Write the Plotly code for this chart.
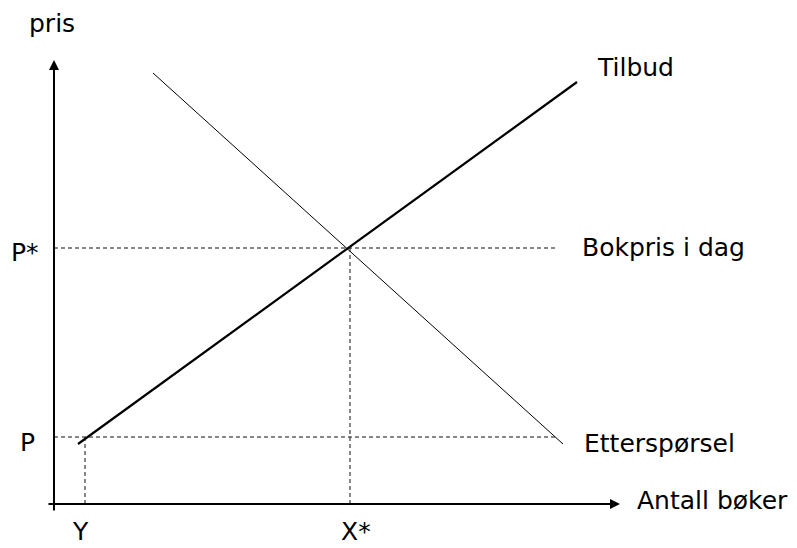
import plotly.graph_objects as go

# quantities / prices (1 unit ~ 10 px)
supply_q = [2.4, 52.3]
supply_p = [6.0, 42.2]
demand_q = [9.9, 50.9]
demand_p = [43.1, 6.0]

p_star = 25.6
p_low = 6.7
x_star = 29.6
y_qty = 3.1
guide_end = [50.1, 50.3]  # right end of the P* and P guides

tick_labels = ["P*", "P", "Y", "X*"]
curve_labels = ["Tilbud", "Bokpris i dag", "Etterspørsel"]
axis_labels = ["pris", "Antall bøker"]

FONT = dict(family="DejaVu Sans, Verdana, sans-serif", size=25, color="black")
GUIDE = dict(color="#111111", width=1, dash="4px,3px")

fig = go.Figure()

fig.add_trace(go.Scatter(x=supply_q, y=supply_p, mode="lines",
                         line=dict(color="black", width=2.2), hoverinfo="skip"))
fig.add_trace(go.Scatter(x=demand_q, y=demand_p, mode="lines",
                         line=dict(color="black", width=1), hoverinfo="skip"))

# dotted guides
fig.add_trace(go.Scatter(x=[0, guide_end[0]], y=[p_star, p_star], mode="lines", line=GUIDE, hoverinfo="skip"))
fig.add_trace(go.Scatter(x=[0, guide_end[1]], y=[p_low, p_low], mode="lines", line=GUIDE, hoverinfo="skip"))
fig.add_trace(go.Scatter(x=[x_star, x_star], y=[0, p_star], mode="lines", line=GUIDE, hoverinfo="skip"))
fig.add_trace(go.Scatter(x=[y_qty, y_qty], y=[0, p_low], mode="lines", line=GUIDE, hoverinfo="skip"))

# axes with arrows
fig.add_annotation(x=0, y=44.4, ax=0, ay=-0.8, xref="x", yref="y", axref="x", ayref="y",
                   text="", showarrow=True, arrowhead=2, arrowsize=1, arrowwidth=2, arrowcolor="black")
fig.add_annotation(x=56.6, y=0, ax=-0.7, ay=0, xref="x", yref="y", axref="x", ayref="y",
                   text="", showarrow=True, arrowhead=2, arrowsize=1, arrowwidth=2, arrowcolor="black")

# tick-like labels
tick_pos = [(-2.9, 25.2), (-2.7, 6.2), (2.6, -2.7), (30.2, -2.7)]
for txt, (x, y) in zip(tick_labels, tick_pos):
    fig.add_annotation(x=x, y=y, text=txt, showarrow=False, font=FONT, xanchor="center", yanchor="middle")

curve_pos = [(54.1, 43.7), (52.6, 25.7), (52.8, 6.1)]
for txt, (x, y) in zip(curve_labels, curve_pos):
    fig.add_annotation(x=x, y=y, text=txt, showarrow=False, font=FONT, xanchor="left", yanchor="middle")

fig.add_annotation(x=-0.2, y=48.1, text=axis_labels[0], showarrow=False, font=FONT,
                   xanchor="center", yanchor="middle")
fig.add_annotation(x=58.1, y=0.4, text=axis_labels[1], showarrow=False, font=FONT,
                   xanchor="left", yanchor="middle")

fig.update_layout(
    width=797, height=548,
    margin=dict(l=0, r=0, t=0, b=0),
    showlegend=False,
    plot_bgcolor="white", paper_bgcolor="white",
    xaxis=dict(range=[-5.4, 74.3], visible=False, fixedrange=True),
    yaxis=dict(range=[-4.4, 50.4], visible=False, fixedrange=True),
)

# drop the default page margin so the chart sits at the window's corner
fig.write_html("out.html", config={"displayModeBar": False, "staticPlot": True},
               post_script="document.body.style.margin='0';document.body.style.overflow='hidden';")
